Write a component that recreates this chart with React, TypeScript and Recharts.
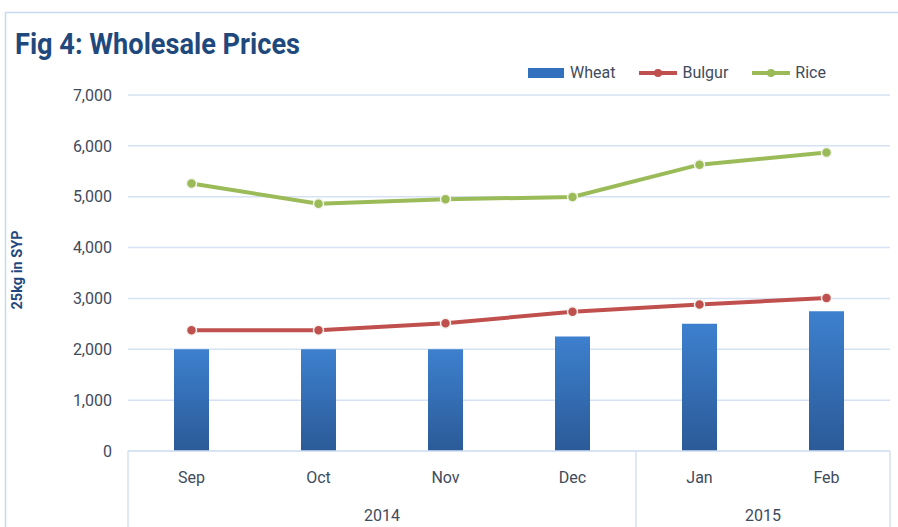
import React from 'react'
import {
  ComposedChart,
  Bar,
  Line,
  XAxis,
  YAxis,
  CartesianGrid,
  Legend,
} from 'recharts'

/* ------------------------------------------------------------------ */
/*  Data                                                               */
/* ------------------------------------------------------------------ */

const MONTHS = ['Sep', 'Oct', 'Nov', 'Dec', 'Jan', 'Feb']
const WHEAT = [2000, 2000, 2000, 2250, 2500, 2750]
const BULGUR = [2375, 2375, 2510, 2740, 2880, 3010]
const RICE = [5260, 4860, 4950, 4995, 5630, 5870]

const YEARS = ['2014', '2015']
const MONTHS_PER_YEAR = [4, 2]

const Y_TICKS = [0, 1000, 2000, 3000, 4000, 5000, 6000, 7000]

/* ------------------------------------------------------------------ */
/*  Styling                                                            */
/* ------------------------------------------------------------------ */

const WIDTH = 898
const HEIGHT = 527
const FONT = "'Liberation Sans Narrow', 'Roboto', 'Liberation Sans', sans-serif"
const TEXT = '#404B5C'
const TITLE = '#1F497D'
const GRID = '#D5E2F3'
const RICE_C = '#9BBB59'
const BULGUR_C = '#C0504D'
const WHEAT_C = '#3370BE'
const MONTH_AXIS_H = 40
const YEAR_AXIS_H = 36
const GRADIENT_ID = 'wheatFill'

// pos = centre of each month's slot on the year axis (month-index units)
const data = MONTHS.map((m, i) => ({
  month: m,
  pos: i + 0.5,
  wheat: WHEAT[i],
  bulgur: BULGUR[i],
  rice: RICE[i],
}))

// year group boundaries and centres, in month-index units
const yearBounds: number[] = [0]
const yearCentres: Record<number, string> = {}
MONTHS_PER_YEAR.forEach((n, i) => {
  const start = yearBounds[yearBounds.length - 1]
  yearCentres[start + n / 2] = YEARS[i]
  yearBounds.push(start + n)
})
const yearTicks = [...yearBounds, ...Object.keys(yearCentres).map(Number)].sort((a, b) => a - b)

const LEGEND_ITEMS = [
  { key: 'wheat', label: 'Wheat', color: WHEAT_C, kind: 'bar' },
  { key: 'bulgur', label: 'Bulgur', color: BULGUR_C, kind: 'line' },
  { key: 'rice', label: 'Rice', color: RICE_C, kind: 'line' },
]

/* ------------------------------------------------------------------ */
/*  Pieces                                                             */
/* ------------------------------------------------------------------ */

function YearTick(props: any) {
  const { x, y, payload } = props
  const label = yearCentres[payload.value]
  if (label) {
    return (
      <text x={x} y={y + 30} textAnchor="middle" fill={TEXT} fontSize={16} fontFamily={FONT}>
        {label}
      </text>
    )
  }
  return <line x1={x} x2={x} y1={y - MONTH_AXIS_H} y2={y + YEAR_AXIS_H} stroke={GRID} strokeWidth={1.5} />
}

function ChartLegend() {
  return (
    <div style={{ display: 'flex', alignItems: 'center', fontFamily: FONT, fontSize: 16, color: TEXT }}>
      {LEGEND_ITEMS.map((it) => (
        <div key={it.key} style={{ display: 'flex', alignItems: 'center', marginRight: 24 }}>
          <svg width={38} height={12} style={{ marginRight: 5 }}>
            {it.kind === 'bar' ? (
              <rect x={1} y={1} width={36} height={10} fill={it.color} />
            ) : (
              <>
                <line x1={0} x2={38} y1={6} y2={6} stroke={it.color} strokeWidth={4} />
                <circle cx={19} cy={6} r={4} fill={it.color} />
              </>
            )}
          </svg>
          <span>{it.label}</span>
        </div>
      ))}
    </div>
  )
}

function Dot(color: string) {
  return { r: 5, fill: color, stroke: '#F4F4EE', strokeWidth: 1.5 }
}

/* ------------------------------------------------------------------ */
/*  Component                                                          */
/* ------------------------------------------------------------------ */

export default function App() {
  return (
    <div style={{ position: 'absolute', left: 0, top: 0, width: WIDTH, height: HEIGHT, background: '#fff', overflow: 'hidden' }}>
      <svg width={WIDTH} height={HEIGHT} style={{ position: 'absolute', left: 0, top: 0 }}>
        <path d={`M5.5 ${HEIGHT} V12.5 H${WIDTH}`} fill="none" stroke="#C6D9F0" strokeWidth={1.5} />
        <text
          x={15}
          y={54}
          fill={TITLE}
          fontFamily={FONT}
          fontWeight="bold"
          fontSize={30}
          textLength={285}
          lengthAdjust="spacingAndGlyphs"
        >
          Fig 4: Wholesale  Prices
        </text>
      </svg>

      <div style={{ position: 'absolute', left: 0, top: 0 }}>
        <ComposedChart
          width={WIDTH}
          height={HEIGHT}
          data={data}
          margin={{ top: 95, right: 8, left: 0, bottom: 0 }}
          barSize={35}
        >
          <defs>
            <linearGradient id={GRADIENT_ID} x1="0" y1="0" x2="0" y2="1">
              <stop offset="0%" stopColor="#3D80CE" />
              <stop offset="100%" stopColor="#2B5A98" />
            </linearGradient>
          </defs>

          <CartesianGrid stroke={GRID} strokeWidth={1.5} vertical={false} />

          <XAxis
            xAxisId="month"
            dataKey="month"
            height={MONTH_AXIS_H}
            tickLine={false}
            tickSize={0}
            tickMargin={21}
            axisLine={{ stroke: GRID, strokeWidth: 1.5 }}
            tick={{ fill: TEXT, fontSize: 16, fontFamily: FONT }}
            interval={0}
          />
          <XAxis
            xAxisId="year"
            dataKey="pos"
            type="number"
            domain={[0, MONTHS.length]}
            ticks={yearTicks}
            allowDataOverflow
            height={YEAR_AXIS_H}
            tickLine={false}
            tickSize={0}
            tickMargin={0}
            axisLine={false}
            tick={<YearTick />}
            interval={0}
          />

          <YAxis
            domain={[0, 7000]}
            ticks={Y_TICKS}
            width={128}
            tickLine={false}
            tickSize={0}
            tickMargin={16}
            axisLine={false}
            tickFormatter={(v: number) => v.toLocaleString('en-US')}
            tick={{ fill: TEXT, fontSize: 16, fontFamily: FONT }}
            label={{
              value: '25kg in SYP',
              angle: -90,
              position: 'insideLeft',
              offset: 17,
              dy: -3,
              style: { fill: TITLE, fontSize: 14.5, fontWeight: 'bold', fontFamily: FONT, textAnchor: 'middle' },
            }}
          />

          <Legend
            verticalAlign="middle"
            align="center"
            content={<ChartLegend />}
            wrapperStyle={{ position: 'absolute', top: 63, left: 527, width: 340 }}
          />

          <Bar xAxisId="month" dataKey="wheat" name="Wheat" fill={`url(#${GRADIENT_ID})`} isAnimationActive={false} />
          <Line
            xAxisId="month"
            dataKey="bulgur"
            name="Bulgur"
            stroke={BULGUR_C}
            strokeWidth={4}
            dot={Dot(BULGUR_C)}
            isAnimationActive={false}
          />
          <Line
            xAxisId="month"
            dataKey="rice"
            name="Rice"
            stroke={RICE_C}
            strokeWidth={4}
            dot={Dot(RICE_C)}
            isAnimationActive={false}
          />
        </ComposedChart>
      </div>
    </div>
  )
}
